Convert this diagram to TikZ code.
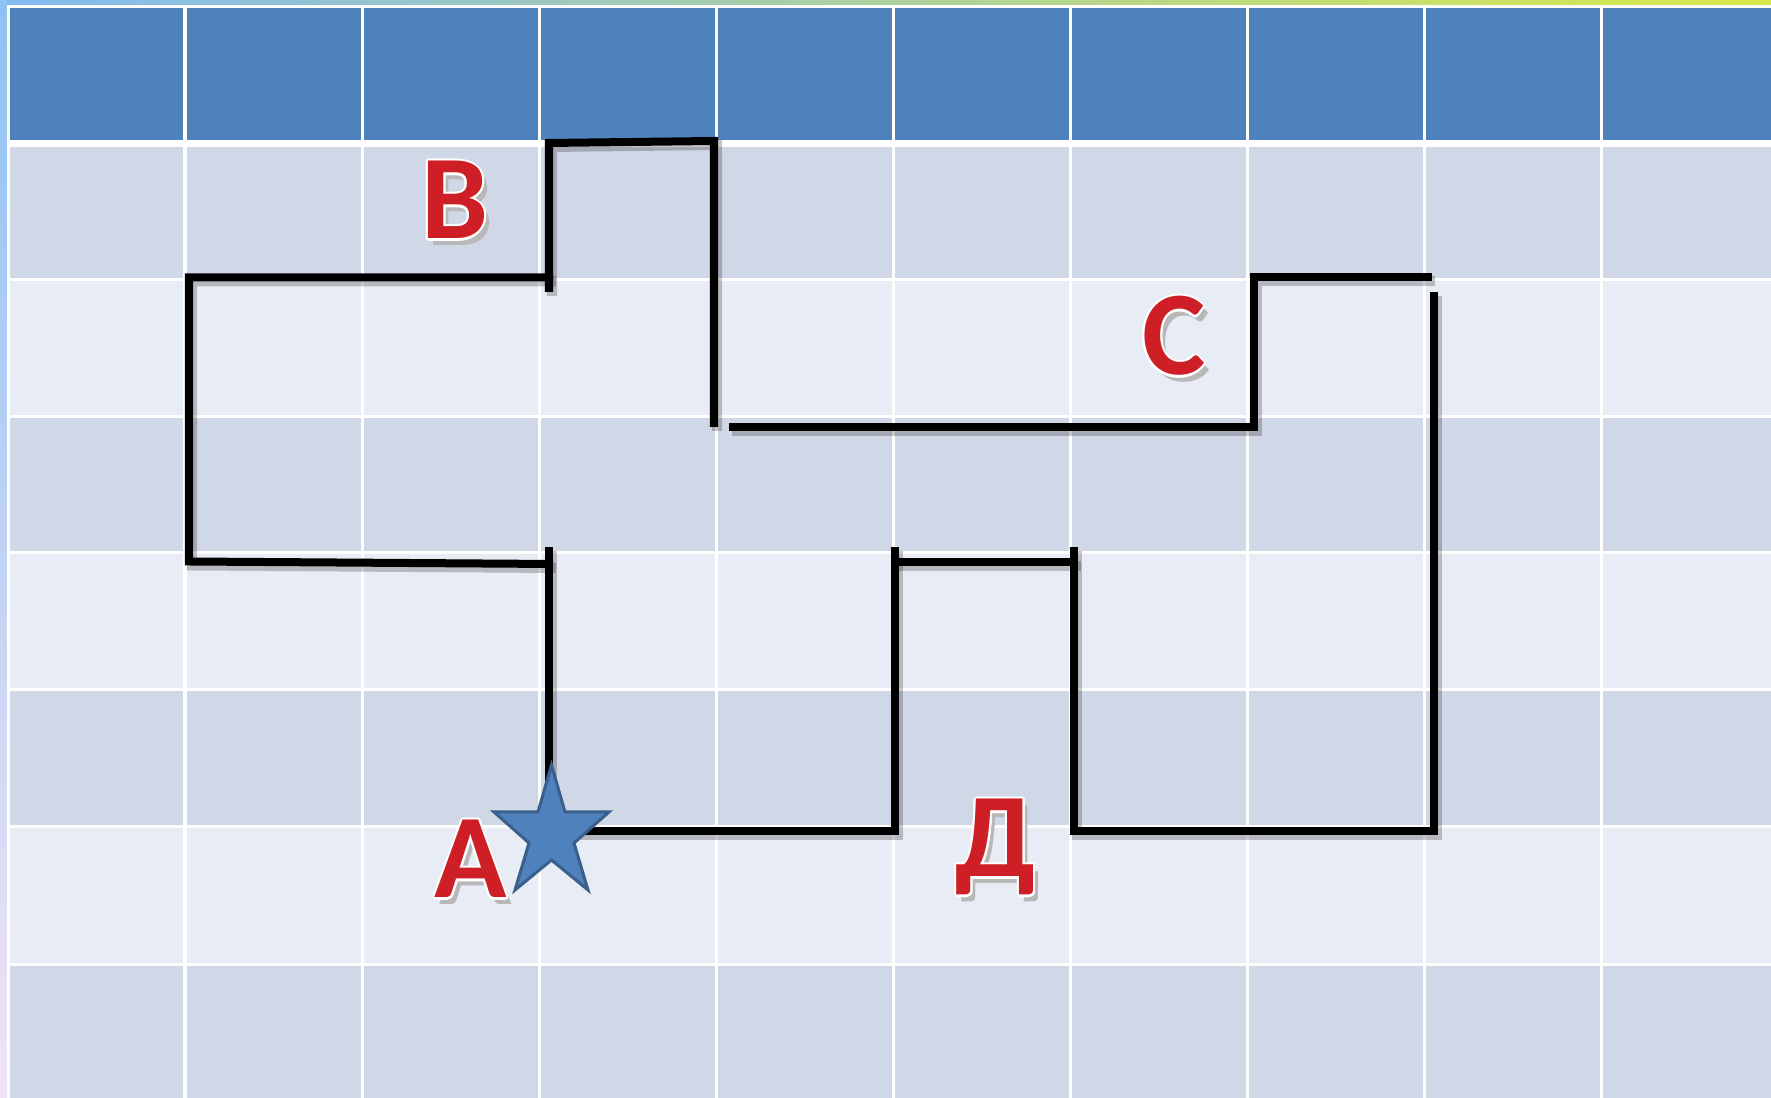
\documentclass[tikz,border=0pt]{standalone}
\usepackage{fontspec}
\newfontfamily\lettfont{Carlito}
\usepackage{contour}
\contourlength{0.6pt}
\definecolor{hdr}{HTML}{4F81BD}
\definecolor{rowdark}{HTML}{D0D7E6}
\definecolor{rowlight}{HTML}{E8ECF4}
\definecolor{lred}{HTML}{CD1F25}
\definecolor{stardraw}{HTML}{3A5F8C}
\definecolor{topl}{HTML}{82BAF2}
\definecolor{topm}{HTML}{94CBD2}
\definecolor{topr}{HTML}{D8E84A}
\definecolor{sidet}{HTML}{8EC2F4}
\definecolor{sideb}{HTML}{F1E3F6}
\newcommand\shlet[1]{\makebox[0pt][l]{\kern1.4pt\raisebox{-1.8pt}{\textcolor{black!28}{#1}}}\contour{white}{#1}}
\newcommand\mazelines[1]{%
  \draw[#1] (553,564) -- (189,561.5) -- (189,277.5) -- (553,277.5);
  \draw[#1] (549,292) -- (549,143) -- (714,141) -- (714,427);
  \draw[#1] (729,427) -- (1254,427) -- (1254,277.5) -- (1432,277.5);
  \draw[#1] (1434,292) -- (1434,831) -- (1074,831) -- (1074,547);
  \draw[#1] (895,547) -- (895,831) -- (549,831) -- (549,547);
  \draw[#1] (891,562) -- (1078,562);
}
\begin{document}
\begin{tikzpicture}[x=0.01cm,y=-0.01cm,
  mazeline/.style={draw=black, line width=0.08cm, line join=miter},
  shadowline/.style={draw=black, opacity=0.22, line width=0.1cm, line join=miter},
  gridline/.style={draw=white, line width=0.03cm},
  letter/.style={inner sep=0pt, anchor=base, text=lred,
    font=\lettfont\bfseries\fontsize{34pt}{34pt}\selectfont},
  starshape/.style={fill=hdr, draw=stardraw, line width=0.03cm, line join=miter}]
\useasboundingbox (0,0) rectangle (1771,1098);
\fill[white] (0,0) rectangle (1771,1098);
% frame gradients
\shade[left color=topl, middle color=topm, right color=topr] (0,0) rectangle (1771,5);
\shade[top color=sidet, bottom color=sideb] (0,0) rectangle (7,1098);
% header
\fill[hdr] (10,8) rectangle (1771,140);
% rows
\fill[rowdark]  (10,147) rectangle (1771,280);
\fill[rowlight] (10,280) rectangle (1771,417);
\fill[rowdark]  (10,417) rectangle (1771,553);
\fill[rowlight] (10,553) rectangle (1771,690);
\fill[rowdark]  (10,690) rectangle (1771,827);
\fill[rowlight] (10,827) rectangle (1771,965);
\fill[rowdark]  (10,965) rectangle (1771,1098);
% grid lines
\foreach \yy in {280,417,553,690,827,965} \draw[gridline] (10,\yy) -- (1771,\yy);
\foreach \k in {0,...,8} \draw[gridline] ({185+177*\k},8) -- ({185+177*\k},1098);
% maze
\begin{scope}[shift={(3,4)}]
  \mazelines{shadowline}
\end{scope}
\mazelines{mazeline}
% star
\filldraw[starshape] (551.5,765) -- (565,812) -- (609,812) -- (574,843) -- (588,890)
  -- (551.5,860) -- (515,890) -- (529,843) -- (494,812) -- (538,812) -- cycle;
% letters
\node[letter] (B) at (455,239) {\shlet{B}};
\node[letter] (C) at (1174,375) {\shlet{C}};
\node[letter] (A) at (471,898) {\shlet{A}};
\node[letter] (D) at (996,877) {\shlet{Д}};
\end{tikzpicture}
\end{document}
